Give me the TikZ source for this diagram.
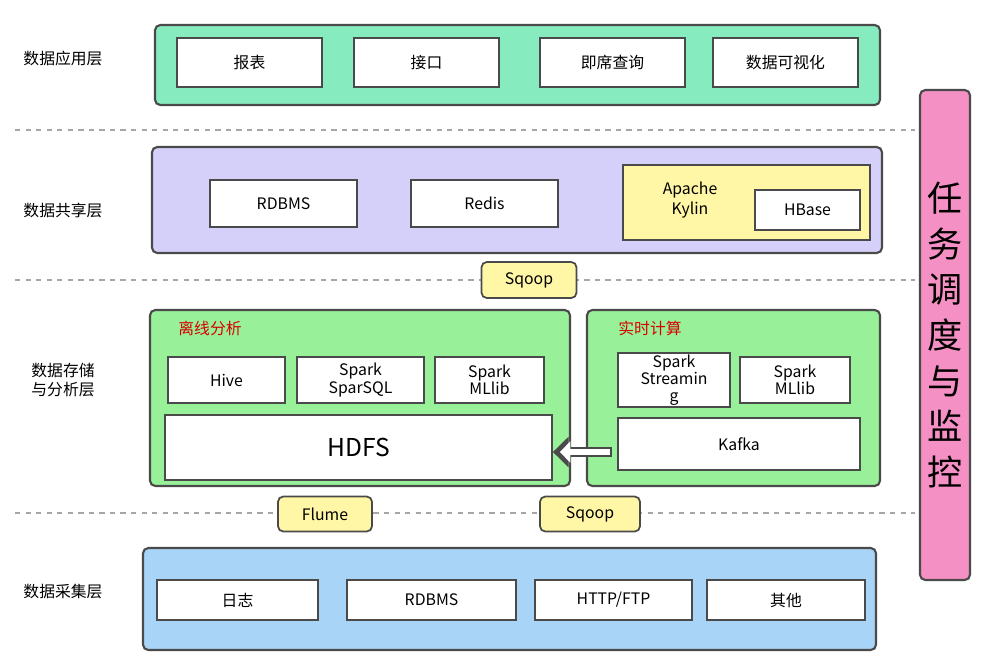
\documentclass[tikz,border=0pt]{standalone}
\usepackage{fontspec}
\setmainfont{Noto Sans CJK SC}
\usetikzlibrary{positioning,arrows.meta}
\definecolor{appc}{HTML}{86ECC0}
\definecolor{sharec}{HTML}{D4D0FA}
\definecolor{midc}{HTML}{98F098}
\definecolor{colc}{HTML}{A8D4F8}
\definecolor{pinkc}{HTML}{F590C4}
\definecolor{yelc}{HTML}{FFF6A6}
\definecolor{edgec}{HTML}{4A4A4A}
\tikzset{
  layer/.style={draw=edgec,line width=1.2pt,rounded corners=3pt},
  item/.style={draw=edgec,fill=white,line width=1pt,font=\fontsize{9}{10}\selectfont,align=center,inner sep=1pt},
  tool/.style={draw=edgec,fill=yelc,line width=1pt,rounded corners=3pt,font=\fontsize{9}{10}\selectfont},
  side/.style={font=\fontsize{9}{11}\selectfont,align=center},
  sep/.style={dashed,gray!70,line width=0.8pt}
}
\newcommand{\bx}[4]{\node[item,minimum width={(#3-#1)*0.02cm},minimum height={(#4-#2)*0.02cm}] at ({(#1+#3)/2},{-(#2+#4)/2})}
\begin{document}
\begin{tikzpicture}[x=0.02cm,y=0.02cm]
  \useasboundingbox (0,0) rectangle (1006,-657);
  \fill[white] (0,0) rectangle (1006,-657);
  % separators
  \foreach \y in {130,280,513}
    \draw[sep] (15,-\y) -- (915,-\y);
  % layers
  \draw[layer,fill=appc] (155,-25) rectangle (880,-105);
  \draw[layer,fill=sharec] (152,-147) rectangle (882,-253);
  \draw[layer,fill=midc] (150,-310) rectangle (570,-486);
  \draw[layer,fill=midc] (587,-310) rectangle (880,-486);
  \draw[layer,fill=colc] (143,-548) rectangle (876,-650);
  \draw[layer,fill=pinkc] (920,-90) rectangle (970,-580);
  \node[font=\fontsize{20}{26}\selectfont,align=center] (task) at (945,-335) {任\\务\\调\\度\\与\\监\\控};
  % side labels
  \node[side] (lapp) at (63,-58) {数据应用层};
  \node[side] (lshare) at (63,-210) {数据共享层};
  \node[side] (lmid) at (63,-380) {数据存储\\与分析层};
  \node[side] (lcol) at (63,-592) {数据采集层};
  % app
  \bx{177}{38}{322}{87} (report) {报表};
  \bx{354}{38}{499}{87} (api) {接口};
  \bx{540}{38}{685}{87} (adhoc) {即席查询};
  \bx{713}{38}{858}{87} (vis) {数据可视化};
  % share
  \bx{210}{180}{357}{227} (rdb) {RDBMS};
  \bx{411}{180}{558}{227} (redis) {Redis};
  \draw[line width=1pt,draw=edgec,fill=yelc] (623,-165) rectangle (870,-240);
  \node[font=\fontsize{9}{11}\selectfont,align=center] (kylin) at (690,-200) {Apache\\Kylin};
  \bx{755}{190}{860}{230} (hbase) {HBase};
  \node[tool,minimum width=95*0.02cm,minimum height=36*0.02cm] (sqoopa) at (529,-280) {Sqoop};
  % mid
  \node[red!85!black,font=\fontsize{9}{10}\selectfont] (off) at (210,-328) {离线分析};
  \node[red!85!black,font=\fontsize{9}{10}\selectfont] (rt) at (650,-328) {实时计算};
  \bx{168}{357}{285}{403} (hive) {Hive};
  \bx{297}{357}{424}{403} (sql) {Spark\\SparSQL};
  \bx{435}{357}{544}{403} (ml) {Spark\\MLlib};
  \node[item,minimum width=387*0.02cm,minimum height=65*0.02cm,font=\fontsize{14}{16}\selectfont] (hdfs) at (358.5,-447.5) {HDFS};
  \node[item,text width=50pt,minimum width=112*0.02cm,minimum height=46*0.02cm,font=\fontsize{9}{9.5}\selectfont] (stream) at (674,-380) {Spark\\Streamin\\g};
  \bx{740}{357}{850}{403} (mlrt) {Spark\\MLlib};
  \bx{618}{418}{860}{470} (kafka) {Kafka};
  \coordinate (ka) at (612,-452);
  \draw[-{Triangle[length=9pt,width=17pt]},line width=6pt,draw=edgec] (ka) -- (hdfs.east|-ka);
  \draw[-{Triangle[length=6pt,width=12pt]},line width=3.5pt,white,shorten >=2pt] ([xshift=-1pt]ka) -- ([xshift=2pt]hdfs.east|-ka);
  % tools
  \node[tool,minimum width=94*0.02cm,minimum height=35*0.02cm] (flume) at (325,-514) {Flume};
  \node[tool,minimum width=100*0.02cm,minimum height=35*0.02cm] (sqoopb) at (590,-514) {Sqoop};
  % collect
  \bx{157}{580}{318}{620} (log) {日志};
  \bx{347}{580}{516}{620} (rdbc) {RDBMS};
  \bx{535}{580}{692}{620} (http) {HTTP/FTP};
  \bx{707}{580}{865}{620} (other) {其他};
\end{tikzpicture}
\end{document}
